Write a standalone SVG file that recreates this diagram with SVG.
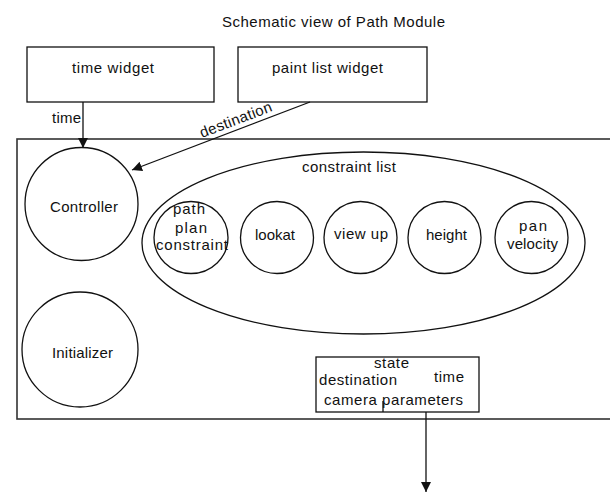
<svg xmlns="http://www.w3.org/2000/svg" width="610" height="493" viewBox="0 0 610 493">
<style>
.s{fill:none;stroke:#111;stroke-width:1.3}
.frame{fill:none;stroke:#333;stroke-width:1.6}
.t{font-family:"Liberation Sans",Arial,sans-serif;font-size:15px;fill:#111;lengthAdjust:spacing}
.c{text-anchor:middle}
</style>
<defs>
<marker id="ah" viewBox="0 0 10 10" refX="10" refY="5" markerWidth="10" markerHeight="10" markerUnits="userSpaceOnUse" orient="auto">
<path d="M0,0 L10,5 L0,10 z" fill="#111"/>
</marker>
</defs>
<rect width="610" height="493" fill="#fff"/>
<text class="t" x="222" y="27" textLength="223" lengthAdjust="spacing">Schematic view of Path Module</text>

<g id="module">
<rect class="frame" x="17" y="139" width="600" height="280"/>
</g>

<g id="time-widget">
<rect class="s" x="27" y="47" width="187" height="55"/>
<text class="t" x="72" y="73" textLength="82" lengthAdjust="spacing">time widget</text>
</g>

<g id="paint-list-widget">
<rect class="s" x="238" y="47" width="189" height="55"/>
<text class="t" x="272" y="73" textLength="111" lengthAdjust="spacing">paint list widget</text>
</g>

<g id="controller">
<ellipse class="s" cx="81.5" cy="204" rx="56.5" ry="56.5"/>
<text class="t" x="50" y="212" textLength="68" lengthAdjust="spacing">Controller</text>
</g>

<g id="initializer">
<ellipse class="s" cx="80" cy="349.5" rx="58" ry="57.5"/>
<text class="t" x="52" y="358" textLength="61" lengthAdjust="spacing">Initializer</text>
</g>

<g id="constraint-list">
<ellipse class="s" cx="363.5" cy="243" rx="221.5" ry="91"/>
<text class="t" x="302" y="172" textLength="94" lengthAdjust="spacing">constraint list</text>
</g>

<g id="path-plan-constraint">
<ellipse class="s" cx="191" cy="237.5" rx="37" ry="36"/>
<text class="t" x="173" y="214" textLength="32" lengthAdjust="spacing">path</text>
<text class="t" x="175" y="233" textLength="32" lengthAdjust="spacing">plan</text>
<text class="t" x="156" y="250" textLength="72" lengthAdjust="spacing">constraint</text>
</g>

<g id="lookat">
<ellipse class="s" cx="277" cy="237.5" rx="36.5" ry="36"/>
<text class="t" x="255" y="240" textLength="40" lengthAdjust="spacing">lookat</text>
</g>

<g id="view-up">
<ellipse class="s" cx="360.5" cy="237.5" rx="36.5" ry="36"/>
<text class="t" x="334" y="239" textLength="54" lengthAdjust="spacing">view up</text>
</g>

<g id="height">
<ellipse class="s" cx="444.5" cy="237.5" rx="36.5" ry="36"/>
<text class="t" x="426" y="240" textLength="41" lengthAdjust="spacing">height</text>
</g>

<g id="pan-velocity">
<ellipse class="s" cx="531.5" cy="237.5" rx="36.5" ry="36"/>
<text class="t" x="519" y="231" textLength="28" lengthAdjust="spacing">pan</text>
<text class="t" x="507" y="249" textLength="51" lengthAdjust="spacing">velocity</text>
</g>

<g id="output">
<rect class="s" x="316" y="357" width="163" height="55"/>
<text class="t" x="374" y="368" textLength="35" lengthAdjust="spacing">state</text>
<text class="t" x="319" y="385" textLength="78" lengthAdjust="spacing">destination</text>
<text class="t" x="434" y="382" textLength="30" lengthAdjust="spacing">time</text>
<text class="t" x="324" y="405" textLength="139" lengthAdjust="spacing">camera parameters</text>
<line class="s" x1="383" y1="401" x2="383" y2="412"/>
</g>

<g id="connectors">
<line class="s" x1="83" y1="102" x2="83" y2="148" marker-end="url(#ah)"/>
<text class="t" x="52" y="123" textLength="29" lengthAdjust="spacing">time</text>
<line class="s" x1="310" y1="102" x2="132" y2="170" marker-end="url(#ah)"/>
<text class="t" x="202" y="138" textLength="76" lengthAdjust="spacing" transform="rotate(-20.9 202 138)">destination</text>
<line class="s" x1="426" y1="412" x2="426" y2="492" marker-end="url(#ah)"/>
</g>
</svg>
